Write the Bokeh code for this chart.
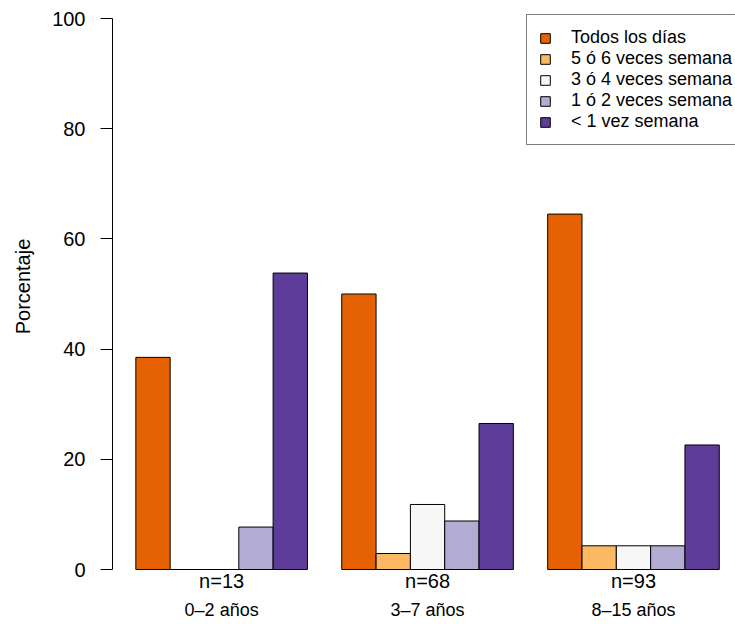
from bokeh.plotting import figure
from bokeh.models import (ColumnDataSource, FixedTicker, LinearAxis, Legend,
                          LegendItem, Range1d)
from bokeh.embed import file_html
from bokeh.resources import INLINE

# ---- data ----
groups = ["0–2 años", "3–7 años", "8–15 años"]
group_n = [13, 68, 93]
series = ["Todos los días", "5 ó 6 veces semana", "3 ó 4 veces semana",
          "1 ó 2 veces semana", "< 1 vez semana"]
colors = ["#E66101", "#FDB863", "#F7F7F7", "#B2ABD2", "#5E3C99"]
todos_los_dias = [38.5, 50.0, 64.5]
cinco_seis = [0.0, 2.9, 4.3]
tres_cuatro = [0.0, 11.8, 4.3]
uno_dos = [7.7, 8.8, 4.3]
menos_uno = [53.8, 26.5, 22.6]
values = [todos_los_dias, cinco_seis, tres_cuatro, uno_dos, menos_uno]
y_ticks = [0, 20, 40, 60, 80, 100]

FONT = "Liberation Sans"
n_series = len(series)
group_span = n_series + 1  # bars of width 1, one bar of space between groups

# pixel geometry
W, H = 735, 624
left_border = 112
bottom_border = 52
px_per_y = 5.51
px_per_x = 34.32
frame_bottom_offset = 3.0  # px between y=0 and frame bottom

p = figure(width=W, height=H, output_backend="svg", toolbar_location=None,
           min_border_left=left_border, min_border_right=0, min_border_top=0,
           min_border_bottom=bottom_border)
x0 = 0.32
p.x_range = Range1d(x0, x0 + (W - left_border) / px_per_x)
ybot = -frame_bottom_offset / px_per_y
p.y_range = Range1d(ybot, ybot + (H - bottom_border) / px_per_y)

p.grid.visible = False
p.outline_line_color = None
p.background_fill_color = "white"
p.border_fill_color = "white"

legend_items = []
for j, (name, col, vals) in enumerate(zip(series, colors, values)):
    xs = [1 + group_span * i + j + 0.5 for i in range(len(groups))]
    src = ColumnDataSource(dict(x=xs, top=vals))
    r = p.vbar(x="x", top="top", bottom=0, width=1, source=src,
               fill_color=col, line_color="black", line_width=1)
    legend_items.append(LegendItem(label=name, renderers=[r]))

# y axis
yax = p.yaxis[0]
yax.ticker = FixedTicker(ticks=y_ticks)
yax.bounds = (0, 100)
yax.minor_tick_line_color = None
yax.major_tick_in = 0
yax.major_tick_out = 12
yax.major_label_standoff = 15
yax.major_label_text_font = FONT
yax.major_label_text_font_size = "20px"
yax.major_label_text_color = "black"
yax.axis_line_color = "black"
yax.major_tick_line_color = "black"
yax.axis_label = "Porcentaje"
yax.axis_label_text_font = FONT
yax.axis_label_text_font_style = "normal"
yax.axis_label_text_font_size = "20px"
yax.axis_label_text_color = "black"
yax.axis_label_standoff = 15

# x axes: counts closest, age groups below
centers = [1 + group_span * i + n_series / 2 for i in range(len(groups))]
xax = p.xaxis[0]
xax.ticker = FixedTicker(ticks=centers)
xax.major_label_overrides = {c: f"n={n}" for c, n in zip(centers, group_n)}
xax.axis_line_color = None
xax.major_tick_line_color = None
xax.minor_tick_line_color = None
xax.major_tick_out = 0
xax.major_tick_in = 0
xax.major_label_standoff = -3
xax.major_label_text_font = FONT
xax.major_label_text_font_size = "20px"
xax.major_label_text_color = "black"

xax2 = LinearAxis(ticker=FixedTicker(ticks=centers))
xax2.major_label_overrides = {c: g for c, g in zip(centers, groups)}
xax2.axis_line_color = None
xax2.major_tick_line_color = None
xax2.minor_tick_line_color = None
xax2.major_tick_out = 0
xax2.major_tick_in = 0
xax2.major_label_standoff = 5
xax2.major_label_text_font = FONT
xax2.major_label_text_font_size = "18px"
xax2.major_label_text_color = "black"
p.add_layout(xax2, "below")

legend = Legend(items=legend_items, location=(414, 427), orientation="vertical",
                glyph_width=12, glyph_height=12, label_height=21, spacing=0,
                label_standoff=20, padding=12, margin=0,
                label_text_font=FONT, label_text_font_size="18px",
                label_text_color="black",
                border_line_color="black", border_line_width=1,
                background_fill_color="white", background_fill_alpha=1.0)
p.add_layout(legend, "center")

open("out.html", "w").write(file_html(p, INLINE))
